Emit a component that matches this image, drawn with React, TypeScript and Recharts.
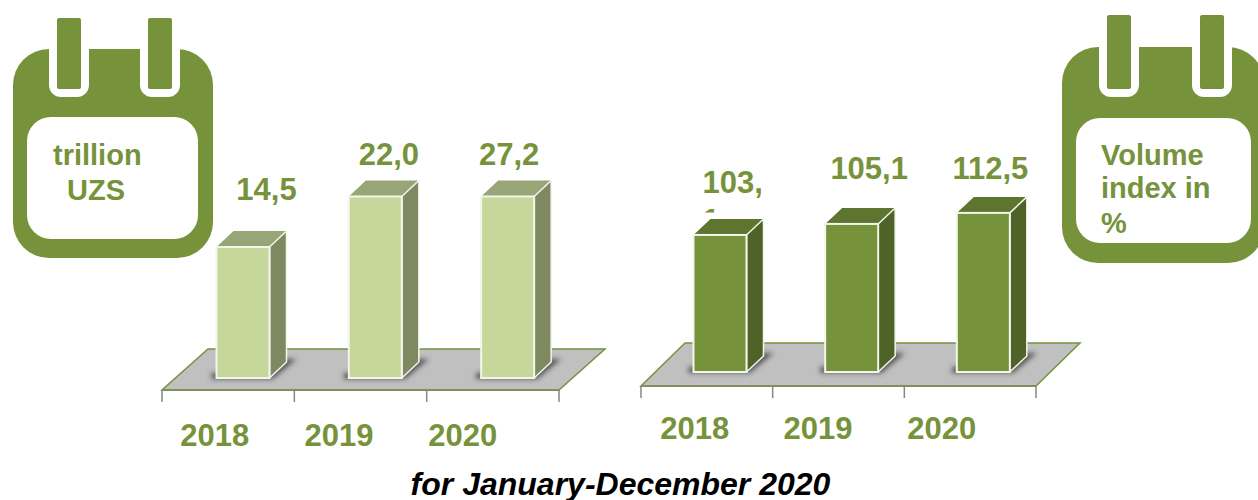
import { BarChart, Bar, XAxis, YAxis, LabelList, usePlotArea } from "recharts";

const years = ["2018", "2019", "2020"];

// bars in the source are not to scale with their labels, so heights are read off the picture
const leftHeights = [14.5, 20.1, 20.1];
const leftLabels = ["14,5", "22,0", "27,2"];
const rightHeights = [103.1, 111.4, 119.7];
const rightLabels = ["103,\n1", "105,1", "112,5"];

const GREEN = "#76933C";
const FONT = "'Liberation Sans', Arial, sans-serif";
const DEPTH_X = 17;
const DEPTH_Y = 16;

const leftData = years.map((year, i) => ({ year, value: leftHeights[i], label: leftLabels[i] }));
const rightData = years.map((year, i) => ({ year, value: rightHeights[i], label: rightLabels[i] }));

function Floor({ id, front, back, count }: any) {
  const plot = usePlotArea();
  if (!plot) return null;
  const bottom = plot.y + plot.height;
  const x0 = plot.x + front.dx;
  const x1 = x0 + plot.width;
  const y0 = bottom + front.dy;
  const bx0 = plot.x + back.dx;
  const bx1 = bx0 + plot.width;
  const by = bottom + back.dy;
  const edges = Array.from({ length: count + 1 }, (_, i) => x0 + (i * plot.width) / count);
  return (
    <g>
      <defs>
        <filter id={id} x="-30%" y="-60%" width="160%" height="220%">
          <feGaussianBlur stdDeviation="2.5" />
        </filter>
      </defs>
      <polygon
        points={`${x0},${y0} ${x1},${y0} ${bx1},${by} ${bx0},${by}`}
        fill="#C0C0C0"
        stroke={GREEN}
        strokeWidth={1.5}
      />
      <line x1={x0} x2={x1} y1={y0} y2={y0} stroke="#7F9060" strokeWidth={2.2} />
      {edges.map((x) => (
        <line key={x} x1={x} x2={x} y1={y0} y2={y0 + 12} stroke="#868686" strokeWidth={1.5} />
      ))}
    </g>
  );
}

function Box3D({ x, y, width, height, front, top, side, filter }: any) {
  const r = x + width;
  const b = y + height;
  return (
    <g>
      <polygon
        points={`${x - 5},${b + 1} ${r + 3},${b + 1} ${r + 27},${b - 19} ${r + 10},${b - 19} ${r},${b - 6} ${x - 5},${b - 5}`}
        fill="#333"
        fillOpacity={0.75}
        filter={`url(#${filter})`}
      />
      <polygon
        points={`${x},${y} ${x + DEPTH_X},${y - DEPTH_Y} ${r + DEPTH_X},${y - DEPTH_Y} ${r},${y}`}
        fill={top}
      />
      <polygon
        points={`${r},${y} ${r + DEPTH_X},${y - DEPTH_Y} ${r + DEPTH_X},${b - DEPTH_Y} ${r},${b}`}
        fill={side}
        stroke="#F4F6EC"
        strokeWidth={1.5}
        strokeLinejoin="round"
      />
      <rect x={x} y={y} width={width} height={height} fill={front} stroke="#F4F6EC" strokeWidth={2} />
    </g>
  );
}

function ValueLabel({ x, y, width, value, index, shifts, rises, clipId }: any) {
  const lines = String(value).split("\n");
  const cx = x + width / 2 + shifts[index];
  const base = y - rises[index];
  const common = { fontFamily: FONT, fontWeight: 700, fontSize: 31, fill: GREEN };
  if (lines.length === 1) {
    return (
      <text x={cx} y={base} textAnchor="middle" {...common}>
        {lines[0]}
      </text>
    );
  }
  // wrapped label: the second line is cut off by its text box in the source
  const left = cx - 30;
  return (
    <g>
      <clipPath id={clipId}>
        <rect x={left - 4} y={base - 30} width={80} height={49.5} />
      </clipPath>
      <g clipPath={`url(#${clipId})`}>
        <text x={left} y={base} {...common}>
          {lines[0]}
        </text>
        <text x={left} y={base + 38} {...common}>
          {lines[1]}
        </text>
      </g>
    </g>
  );
}

function YearTick({ x, y, payload, index, shifts, baseline }: any) {
  return (
    <text
      x={x + shifts[index]}
      y={y + baseline}
      textAnchor="middle"
      fontFamily={FONT}
      fontWeight={700}
      fontSize={31}
      fill={GREEN}
    >
      {payload.value}
    </text>
  );
}

function Calendar({ x, width, tabs, top, bottom, tabTop, win }: any) {
  return (
    <g>
      <rect x={x} y={top} width={width} height={bottom - top} rx={36} fill={GREEN} />
      {tabs.map((t: number) => (
        <g key={t}>
          <path
            d={`M${t - 8} ${top - 1} V${85} a12 12 0 0 0 12 12 h16 a12 12 0 0 0 12 -12 V${top - 1} Z`}
            fill="#fff"
          />
          <rect x={t} y={tabTop} width={24} height={89 - tabTop} rx={2} fill={GREEN} />
        </g>
      ))}
      <rect x={win.x} y={win.y} width={win.w} height={win.h} rx={24} fill="#fff" />
    </g>
  );
}

const iconText = { fontFamily: FONT, fontWeight: 700, fontSize: 29, fill: GREEN };

export default function App() {
  return (
    <div style={{ position: "absolute", left: 0, top: 0, width: 1258, height: 500, overflow: "hidden", background: "#fff" }}>
      <svg width={1258} height={500} style={{ position: "absolute", left: 0, top: 0 }}>
        <Calendar x={13} width={200} top={49} bottom={258} tabTop={18} tabs={[57, 148]} win={{ x: 27, y: 117, w: 171, h: 122 }} />
        <Calendar x={1062} width={202} top={47} bottom={263} tabTop={15} tabs={[1107, 1200]} win={{ x: 1076, y: 118, w: 175, h: 125 }} />
        <text x={53} y={165} {...iconText}>trillion</text>
        <text x={67} y={200} {...iconText}>UZS</text>
        <text x={1101} y={165} {...iconText}>Volume</text>
        <text x={1101} y={198} {...iconText}>index in</text>
        <text x={1101} y={233} {...iconText}>%</text>
        <text
          x={620.5}
          y={495}
          textAnchor="middle"
          fontFamily={FONT}
          fontWeight={700}
          fontStyle="italic"
          fontSize={32}
          fill="#000"
        >
          for January-December 2020
        </text>
      </svg>

      <div style={{ position: "absolute", left: 0, top: 0 }}>
        <BarChart
          width={630}
          height={500}
          data={leftData}
          margin={{ left: 176.5, right: 56.5, top: 152.2, bottom: 0 }}
          barSize={53}
        >
          <Floor id="shadow-left" front={{ dx: -14.5, dy: 12 }} back={{ dx: 31.5, dy: -29 }} count={years.length} />
          <XAxis
            dataKey="year"
            height={122}
            axisLine={false}
            tickLine={false}
            interval={0}
            tick={(p: any) => <YearTick {...p} shifts={[-28, -36, -44.5]} baseline={60} />}
          />
          <YAxis hide domain={[0, 25]} />
          <Bar
            dataKey="value"
            isAnimationActive={false}
            shape={(p: any) => <Box3D {...p} front="#C6D79C" top="#98A576" side="#7E8961" filter="shadow-left" />}
          >
            <LabelList
              dataKey="label"
              content={(p: any) => <ValueLabel {...p} shifts={[23.5, 13.5, 1.5]} rises={[47, 31, 31]} clipId="clip-left" />}
            />
          </Bar>
        </BarChart>
      </div>

      <div style={{ position: "absolute", left: 0, top: 0 }}>
        <BarChart
          width={1258}
          height={500}
          data={rightData}
          margin={{ left: 654.5, right: 208.5, top: 199.2, bottom: 0 }}
          barSize={53}
        >
          <Floor id="shadow-right" front={{ dx: -13.5, dy: 14 }} back={{ dx: 30.5, dy: -29 }} count={years.length} />
          <XAxis
            dataKey="year"
            height={128}
            axisLine={false}
            tickLine={false}
            interval={0}
            tick={(p: any) => <YearTick {...p} shifts={[-25.5, -34, -42]} baseline={59} />}
          />
          <YAxis hide domain={[0, 130]} />
          <Bar
            dataKey="value"
            isAnimationActive={false}
            shape={(p: any) => <Box3D {...p} front="#76933C" top="#5E7530" side="#4F6228" filter="shadow-right" />}
          >
            <LabelList
              dataKey="label"
              content={(p: any) => <ValueLabel {...p} shifts={[12.5, 17.5, 7]} rises={[42, 45, 34]} clipId="clip-right" />}
            />
          </Bar>
        </BarChart>
      </div>
    </div>
  );
}
